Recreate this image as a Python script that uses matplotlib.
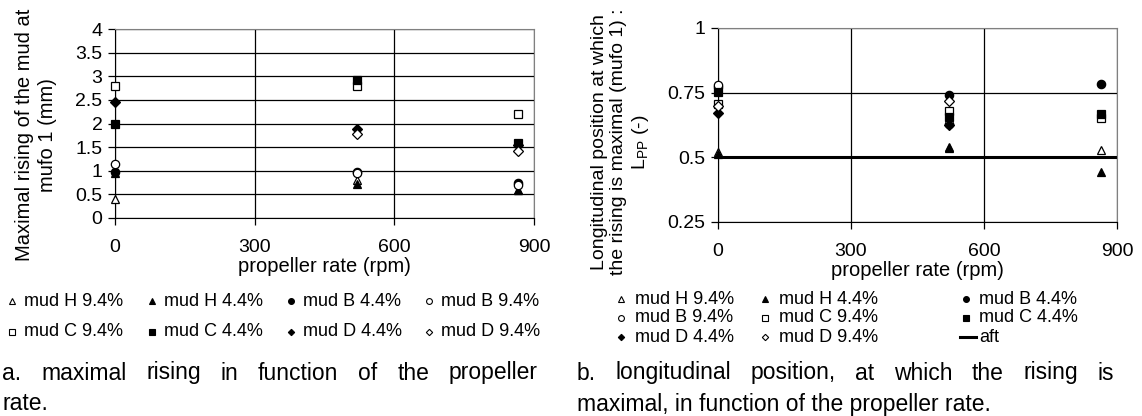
import numpy as np
import matplotlib
matplotlib.use("Agg")
import matplotlib.pyplot as plt
from matplotlib.lines import Line2D

plt.rcParams['font.family'] = ['Liberation Sans', 'DejaVu Sans']

nan = np.nan
rpm = [0, 520, 865]
labels = ["mud H 9.4%", "mud H 4.4%", "mud B 4.4%", "mud B 9.4%",
          "mud C 9.4%", "mud C 4.4%", "mud D 4.4%", "mud D 9.4%"]

# maximal rising (mm)
rise = [
    [0.40, 0.80, 0.60],
    [0.95, 0.72, 0.60],
    [0.98, 0.97, 0.74],
    [1.15, 0.95, 0.70],
    [2.80, 2.80, 2.20],
    [2.00, 2.92, 1.58],
    [2.45, 1.88, 1.55],
    [nan, 1.78, 1.42],
]

# longitudinal position of the maximum (-)
pos = [
    [0.52, 0.54, 0.528],
    [0.513, 0.536, 0.443],
    [0.77, 0.741, 0.783],
    [0.778, 0.63, nan],
    [0.705, 0.68, 0.652],
    [0.752, 0.655, 0.667],
    [0.672, 0.625, nan],
    [0.70, 0.716, nan],
]
aft_x = [0, 900]
aft_y = [0.5, 0.5]

# marker, fill, size
styles = [("^", "white", 6.2), ("^", "black", 6.2), ("o", "black", 6), ("o", "white", 6),
          ("s", "white", 5.8), ("s", "black", 5.8), ("D", "black", 4.6), ("D", "white", 4.6)]

W, H = 1142, 416
fig = plt.figure(figsize=(W / 100, H / 100), dpi=100)


def px_axes(x0, y0, x1, y1):
    return fig.add_axes([x0 / W, 1 - y1 / H, (x1 - x0) / W, (y1 - y0) / H])


def style_axes(ax, yticks, ylim):
    ax.set_xlim(0, 900)
    ax.set_ylim(*ylim)
    ax.set_xticks([0, 300, 600, 900])
    ax.set_yticks(yticks)
    ax.grid(True, color="black", lw=0.9)
    ax.set_axisbelow(True)
    for s in ["top", "right"]:
        ax.spines[s].set_color("#808080")
    for s in ["left", "bottom"]:
        ax.spines[s].set_color("black")
    ax.tick_params(direction="out", length=5, width=0.9, labelsize=14, color="black")
    ax.tick_params(axis="x", pad=10)
    ax.tick_params(axis="y", pad=4)
    ax.set_xlabel("propeller rate (rpm)", fontsize=14.5, labelpad=1)


ax1 = px_axes(115, 29, 534, 218)
ax2 = px_axes(718, 28, 1117, 222)

for vals, (m, fc, ms), lab in zip(rise, styles, labels):
    ax1.plot(rpm, vals, ls="none", marker=m, mfc=fc, mec="black", mew=0.9,
             ms=ms, clip_on=False, zorder=3, label=lab)
for vals, (m, fc, ms), lab in zip(pos, styles, labels):
    ax2.plot(rpm, vals, ls="none", marker=m, mfc=fc, mec="black", mew=0.9,
             ms=ms, clip_on=False, zorder=3)
ax2.plot(aft_x, aft_y, color="black", lw=2.2, zorder=2.5, label="aft")

style_axes(ax1, [0, 0.5, 1, 1.5, 2, 2.5, 3, 3.5, 4], (0, 4))
ax1.set_yticklabels(["0", "0.5", "1", "1.5", "2", "2.5", "3", "3.5", "4"])
style_axes(ax2, [0.25, 0.5, 0.75, 1], (0.25, 1))
ax2.set_yticklabels(["0.25", "0.5", "0.75", "1"])

fig.text(36 / W, 1 - 135 / H, "Maximal rising of the mud at\nmufo 1 (mm)",
         rotation=90, ha="center", va="center", multialignment="center",
         fontsize=14.5, linespacing=1.3)
fig.text(621 / W, 1 - 142 / H,
         "Longitudinal position at which\nthe rising is maximal (mufo 1) :\nL$_{\\mathregular{PP}}$ (-)",
         rotation=90, ha="center", va="center", multialignment="center",
         fontsize=14, linespacing=1.2)


# legends, laid out row by row like the original
def legend_item(xm, xt, y, style, text):
    yf = 1 - y / H
    if style == "line":
        fig.add_artist(Line2D([(xt - 19) / W, (xt - 3) / W], [yf, yf],
                              color="black", lw=2.2, transform=fig.transFigure))
    else:
        m, fc, ms = style
        fig.add_artist(Line2D([xm / W], [yf], ls="none", marker=m, mfc=fc, mec="black",
                              mew=0.8, ms=ms * 0.7, transform=fig.transFigure))
    fig.text(xt / W, yf, text, fontsize=13, va="center")


left_mx = [12, 152, 291, 429]
left_tx = [24, 164, 303, 441]
left_ry = [301, 332]
for i, (st, lab) in enumerate(zip(styles, labels)):
    r, c = divmod(i, 4)
    legend_item(left_mx[c], left_tx[c], left_ry[r], st, lab)

right_mx = [621, 765, 966]
right_tx = [635, 779, 979]
right_ry = [299, 318, 337]
for i, (st, lab) in enumerate(zip(styles + ["line"], labels + ["aft"])):
    r, c = divmod(i, 3)
    legend_item(right_mx[c], right_tx[c], right_ry[r], st, lab)

# justified captions
renderer = fig.canvas.get_renderer()


def justify(text, x0, x1, y, size=16.5):
    words = text.split()
    ts = [fig.text(0, 1 - y / H, w, fontsize=size, va="center") for w in words]
    widths = [t.get_window_extent(renderer).width for t in ts]
    gap = (x1 - x0 - sum(widths)) / (len(words) - 1)
    x = x0
    for t, w in zip(ts, widths):
        t.set_x(x / W)
        x += w + gap


justify("a. maximal rising in function of the propeller", 2, 538, 373)
fig.text(2 / W, 1 - 404 / H, "rate.", fontsize=16.5, va="center")
justify("b. longitudinal position, at which the rising is", 577, 1114, 373)
fig.text(577 / W, 1 - 404 / H, "maximal, in function of the propeller rate.",
         fontsize=16.5, va="center")

fig.savefig("out.png", dpi=100)
